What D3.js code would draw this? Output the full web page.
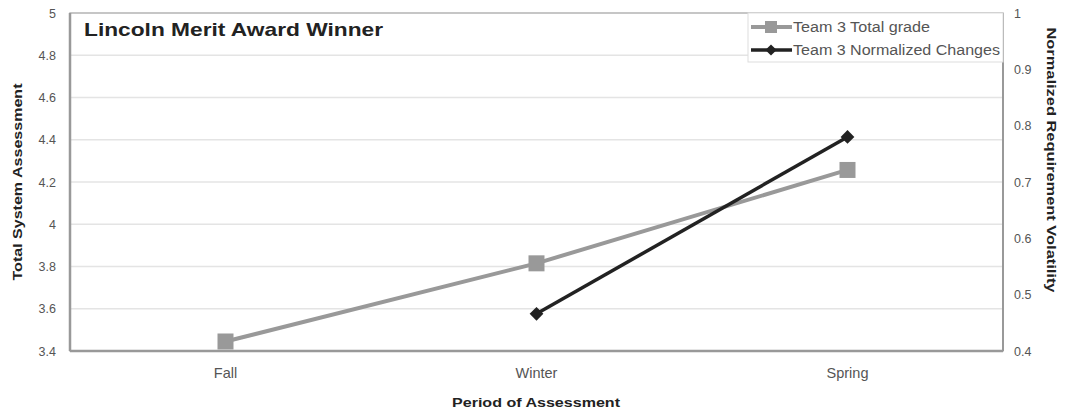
<!DOCTYPE html>
<html><head><meta charset="utf-8">
<script src="https://cdn.jsdelivr.net/npm/d3@7"></script>
<style>body{margin:0;background:#fff}svg{display:block;font-family:"Liberation Sans",Arial,sans-serif}</style>
</head><body><svg id="c" width="1065" height="412"></svg>
<script>
const categories = ["Fall","Winter","Spring"];
const totalGrade = [3.445, 3.815, 4.257];
const normChanges = [null, 0.466, 0.78];
const leftTicks = [3.4,3.6,3.8,4,4.2,4.4,4.6,4.8,5];
const rightTicks = [0.4,0.5,0.6,0.7,0.8,0.9,1];
const seriesNames = ["Team 3 Total grade","Team 3 Normalized Changes"];

const svg = d3.select("#c");
const L=70,R=1003,T=13,B=351;
const x = d3.scaleBand().domain(categories).range([L,R]);
const yL = d3.scaleLinear().domain([3.4,5]).range([B,T]);
const yR = d3.scaleLinear().domain([0.4,1]).range([B,T]);

// gridlines
svg.append("g").selectAll("line").data(leftTicks.slice(1)).join("line")
  .attr("x1",L).attr("x2",R).attr("y1",d=>yL(d)).attr("y2",d=>yL(d))
  .attr("stroke","#e4e4e4").attr("stroke-width",1.5);
// frame
svg.append("rect").attr("x",L).attr("y",T).attr("width",R-L).attr("height",B-T)
  .attr("fill","none").attr("stroke","#bbb").attr("stroke-width",1.5);
svg.append("line").attr("x1",L).attr("x2",L).attr("y1",T).attr("y2",B).attr("stroke","#999").attr("stroke-width",2.5);
svg.append("line").attr("x1",L).attr("x2",R).attr("y1",B).attr("y2",B).attr("stroke","#999").attr("stroke-width",2.5);
svg.append("line").attr("x1",R).attr("x2",R).attr("y1",T).attr("y2",B).attr("stroke","#999").attr("stroke-width",2);

// left axis
const gl = svg.append("g").attr("transform",`translate(${L},0)`)
  .call(d3.axisLeft(yL).tickValues(leftTicks).tickSize(0).tickPadding(14).tickFormat(d3.format("~g")));
gl.select(".domain").remove();
gl.selectAll("text").attr("font-size",12.5).attr("fill","#555").attr("font-family","Liberation Sans, Arial");
// right axis
const gr = svg.append("g").attr("transform",`translate(${R},0)`)
  .call(d3.axisRight(yR).tickValues(rightTicks).tickSize(0).tickPadding(11).tickFormat(d3.format("~g")));
gr.select(".domain").remove();
gr.selectAll("text").attr("font-size",12.5).attr("fill","#555").attr("font-family","Liberation Sans, Arial");
// bottom axis
const gb = svg.append("g").attr("transform",`translate(0,${B})`)
  .call(d3.axisBottom(x).tickSize(0).tickPadding(17));
gb.select(".domain").remove();
gb.selectAll("text").attr("font-size",14.5).attr("fill","#555").attr("font-family","Liberation Sans, Arial");

const cx = d=>x(d)+x.bandwidth()/2;
// total grade line
const d1 = categories.map((c,i)=>({c,v:totalGrade[i]}));
svg.append("path").datum(d1).attr("fill","none").attr("stroke","#999").attr("stroke-width",4)
  .attr("d",d3.line().x(d=>cx(d.c)).y(d=>yL(d.v)));
svg.append("g").selectAll("rect").data(d1).join("rect")
  .attr("x",d=>cx(d.c)-8).attr("y",d=>yL(d.v)-8).attr("width",16).attr("height",16).attr("fill","#999");
// normalized line
const d2 = categories.map((c,i)=>({c,v:normChanges[i]})).filter(d=>d.v!=null);
svg.append("path").datum(d2).attr("fill","none").attr("stroke","#222").attr("stroke-width",3.5)
  .attr("d",d3.line().x(d=>cx(d.c)).y(d=>yR(d.v)));
svg.append("g").selectAll("path").data(d2).join("path")
  .attr("transform",d=>`translate(${cx(d.c)},${yR(d.v)})`)
  .attr("d",d3.symbol(d3.symbolDiamond2,120)).attr("fill","#222");

// title
svg.append("text").attr("x",84).attr("y",36).attr("font-size",19).attr("font-weight","bold")
  .attr("textLength",299).attr("lengthAdjust","spacingAndGlyphs")
  .attr("fill","#222").text("Lincoln Merit Award Winner");

// legend
const lg = svg.append("g");
lg.append("rect").attr("x",748).attr("y",T).attr("width",R-748).attr("height",49)
  .attr("fill","#fff").attr("stroke","#ddd").attr("stroke-width",1);
const legLens=[137,207];
[0,1].forEach(i=>{
  const yy = 27+i*23;
  lg.append("line").attr("x1",751).attr("x2",792).attr("y1",yy).attr("y2",yy)
    .attr("stroke",i?"#222":"#999").attr("stroke-width",i?3.5:4);
  if(i===0) lg.append("rect").attr("x",765).attr("y",yy-6).attr("width",12).attr("height",12).attr("fill","#999");
  else lg.append("path").attr("transform",`translate(771,${yy})`).attr("d",d3.symbol(d3.symbolDiamond2,80)).attr("fill","#222");
  lg.append("text").attr("x",793).attr("y",yy+5).attr("font-size",14).attr("fill","#555")
    .attr("textLength",legLens[i]).attr("lengthAdjust","spacingAndGlyphs").text(seriesNames[i]);
});

// axis titles
svg.append("text").attr("transform",`translate(22,182) rotate(-90)`).attr("text-anchor","middle")
  .attr("font-size",12.5).attr("font-weight","bold").attr("fill","#222")
  .attr("textLength",197).attr("lengthAdjust","spacingAndGlyphs").text("Total System Assessment");
svg.append("text").attr("transform",`translate(1047,160) rotate(90)`).attr("text-anchor","middle")
  .attr("font-size",12.5).attr("font-weight","bold").attr("fill","#222")
  .attr("textLength",265).attr("lengthAdjust","spacingAndGlyphs").text("Normalized Requirement Volatility");
svg.append("text").attr("x",536).attr("y",407).attr("text-anchor","middle")
  .attr("font-size",13.5).attr("font-weight","bold").attr("fill","#222")
  .attr("textLength",168).attr("lengthAdjust","spacingAndGlyphs").text("Period of Assessment");
</script></body></html>
